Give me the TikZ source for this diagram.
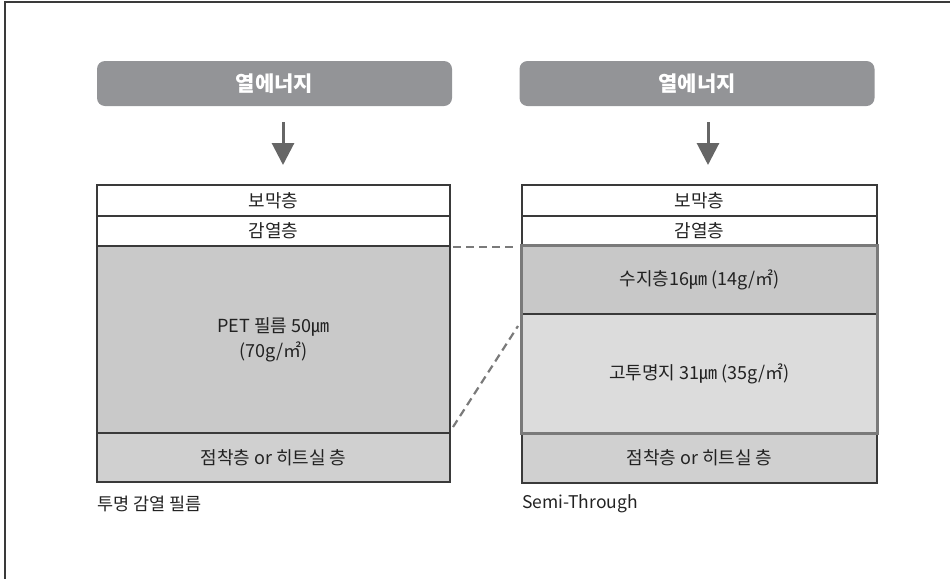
\documentclass[tikz,border=0pt]{standalone}
\usepackage{fontspec}
\setmainfont{Noto Sans CJK KR}
\usetikzlibrary{arrows.meta}
\definecolor{hdr}{HTML}{939497}
\definecolor{ink}{HTML}{222222}
\definecolor{edge}{HTML}{3A3A3A}
\definecolor{petfill}{HTML}{C9C9C9}
\definecolor{resfill}{HTML}{C8C8C8}
\definecolor{paperfill}{HTML}{DCDCDC}
\definecolor{gluefill}{HTML}{D0D0D0}
\definecolor{grp}{HTML}{7A7A7A}
\definecolor{arr}{HTML}{666666}
\begin{document}
\begin{tikzpicture}[x=1pt,y=-1pt,
  header/.style={fill=hdr, rounded corners=8pt, minimum width=355pt, minimum height=45pt,
    inner sep=0pt, text=white, font=\fontsize{21}{25}\selectfont\bfseries},
  layer/.style={draw=edge, line width=1.4pt, inner sep=0pt, text=ink,
    font=\fontsize{18}{25}\selectfont, align=center},
  caption/.style={anchor=west, inner sep=0pt, text=ink, font=\fontsize{17.5}{21}\selectfont},
  downarrow/.style={draw=arr, line width=3pt, -{Triangle[width=22pt,length=22pt]}, arr},
  linkdash/.style={draw=grp, line width=2.2pt, dash pattern=on 8pt off 5pt},
]
\useasboundingbox (0,0) rectangle (950,579);
% frame (top and left only)
\draw[edge, line width=1.5pt] (950,2) -- (5,2) -- (5,579);

% headers
\node[header] (hl) at (274.5,83.5) {열에너지};
\node[header] (hr) at (697,83.5) {열에너지};

% arrows
\coordinate (al1) at (283,122);
\coordinate (al2) at (283,165);
\coordinate (ar1) at (708,122);
\coordinate (ar2) at (708,165);
\draw[downarrow] (al1) -- (al2);
\draw[downarrow] (ar1) -- (ar2);

% left stack
\node[layer, fill=white, minimum width=353pt, minimum height=31pt] (l1) at (273.5,200.5) {보막층};
\node[layer, fill=white, minimum width=353pt, minimum height=30pt] (l2) at (273.5,231) {감열층};
\node[layer, fill=petfill, minimum width=353pt, minimum height=187pt] (l3) at (273.5,339.5) {PET 필름 50㎛\\(70g/㎡)};
\node[layer, fill=gluefill, minimum width=353pt, minimum height=49pt] (l4) at (273.5,457.5) {점착층 or 히트실 층};

% right stack
\node[layer, fill=white, minimum width=355pt, minimum height=31pt] (r1) at (699.5,200.5) {보막층};
\node[layer, fill=white, minimum width=355pt, minimum height=30pt] (r2) at (699.5,231) {감열층};
\node[layer, fill=resfill, minimum width=355pt, minimum height=68pt] (r3) at (699.5,280) {수지층16㎛ (14g/㎡)};
\node[layer, fill=paperfill, minimum width=355pt, minimum height=119pt] (r4) at (699.5,373.5) {고투명지 31㎛ (35g/㎡)};
\node[layer, fill=gluefill, minimum width=355pt, minimum height=50pt] (r5) at (699.5,458) {점착층 or 히트실 층};
\draw[grp, line width=2.6pt] (r3.north west) rectangle (r4.south east);

% dashed links
\coordinate (d1a) at (453,247);
\coordinate (d1b) at (515,247);
\coordinate (d2a) at (453,427);
\coordinate (d2b) at (518,326);
\draw[linkdash] (d1a) -- (d1b);
\draw[linkdash] (d2a) -- (d2b);

% captions
\node[caption] (cl) at (97,504) {투명 감열 필름};
\node[caption] (cr) at (522,504) {Semi-Through};
\end{tikzpicture}
\end{document}
